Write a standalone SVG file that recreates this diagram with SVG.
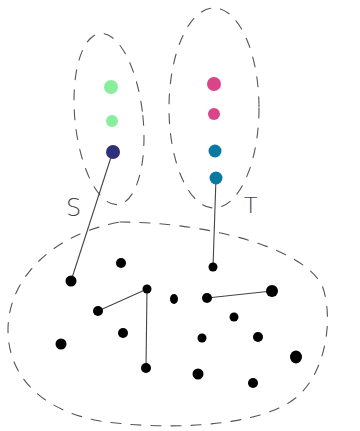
<svg xmlns="http://www.w3.org/2000/svg" width="360" height="431" viewBox="0 0 360 431">
<style>
.hull{fill:none;stroke:#555;stroke-width:1.1;stroke-dasharray:10 10;stroke-linecap:round}
.edge{stroke:#444;stroke-width:1.1;fill:none}
.pt{fill:#000}
.lbl{font-family:"DejaVu Sans",sans-serif;font-weight:200;fill:#444}
</style>
<rect width="360" height="431" fill="#fff"/>
<g id="hulls">
<ellipse id="hull-S" class="hull" cx="109" cy="119" rx="34" ry="86" transform="rotate(-6 109 119)"/>
<ellipse id="hull-T" class="hull" cx="214" cy="108" rx="45" ry="100"/>
<path id="hull-B" class="hull" d="M120,222 C200,222 300,245 322,285 C335,320 325,380 290,402 C250,428 160,430 100,421 C40,410 8,375 8,330 C8,280 50,235 120,222 Z"/>
</g>
<g id="labels">
<text class="lbl" x="66" y="216" font-size="24">S</text>
<text class="lbl" x="244" y="213" font-size="22">T</text>
</g>
<g id="connectors">
<line class="edge" x1="113" y1="151" x2="71" y2="281"/>
<line class="edge" x1="216" y1="178" x2="213" y2="267"/>
<line class="edge" x1="98" y1="311" x2="147" y2="289"/>
<line class="edge" x1="147" y1="289" x2="146" y2="368"/>
<line class="edge" x1="207" y1="298" x2="272" y2="291"/>
</g>
<g id="nodes">
<g id="s1"><circle cx="111" cy="87" r="7" fill="#88ee9c"/></g>
<g id="s2"><circle cx="112" cy="121" r="6" fill="#88ee9c"/></g>
<g id="s3"><circle cx="113" cy="152" r="7" fill="#2e3078"/></g>
<g id="t1"><circle cx="214" cy="84" r="7" fill="#d9448a"/></g>
<g id="t2"><circle cx="214" cy="114" r="6" fill="#d9448a"/></g>
<g id="t3"><circle cx="215" cy="151" r="6.5" fill="#0a7aa2"/></g>
<g id="t4"><circle cx="216" cy="178" r="6.5" fill="#0a7aa2"/></g>
<g id="b1"><circle class="pt" cx="121" cy="263" r="5"/></g>
<g id="b2"><circle class="pt" cx="71" cy="281" r="5.5"/></g>
<g id="b3"><circle class="pt" cx="147" cy="289" r="4.5"/></g>
<g id="b4"><ellipse class="pt" cx="174" cy="299" rx="4" ry="5"/></g>
<g id="b5"><circle class="pt" cx="98" cy="311" r="5"/></g>
<g id="b6"><circle class="pt" cx="123" cy="333" r="5"/></g>
<g id="b7"><circle class="pt" cx="61" cy="344" r="5.5"/></g>
<g id="b8"><circle class="pt" cx="146" cy="368" r="5"/></g>
<g id="b9"><circle class="pt" cx="213" cy="267" r="4.5"/></g>
<g id="b10"><circle class="pt" cx="207" cy="298" r="5"/></g>
<g id="b11"><circle class="pt" cx="272" cy="291" r="6"/></g>
<g id="b12"><circle class="pt" cx="234" cy="317" r="4.5"/></g>
<g id="b13"><circle class="pt" cx="202" cy="338" r="4.5"/></g>
<g id="b14"><circle class="pt" cx="258" cy="337" r="5"/></g>
<g id="b15"><ellipse class="pt" cx="296" cy="357" rx="6" ry="6.5"/></g>
<g id="b16"><circle class="pt" cx="198" cy="374" r="5.5"/></g>
<g id="b17"><circle class="pt" cx="253" cy="383" r="5"/></g>
</g>
</svg>
